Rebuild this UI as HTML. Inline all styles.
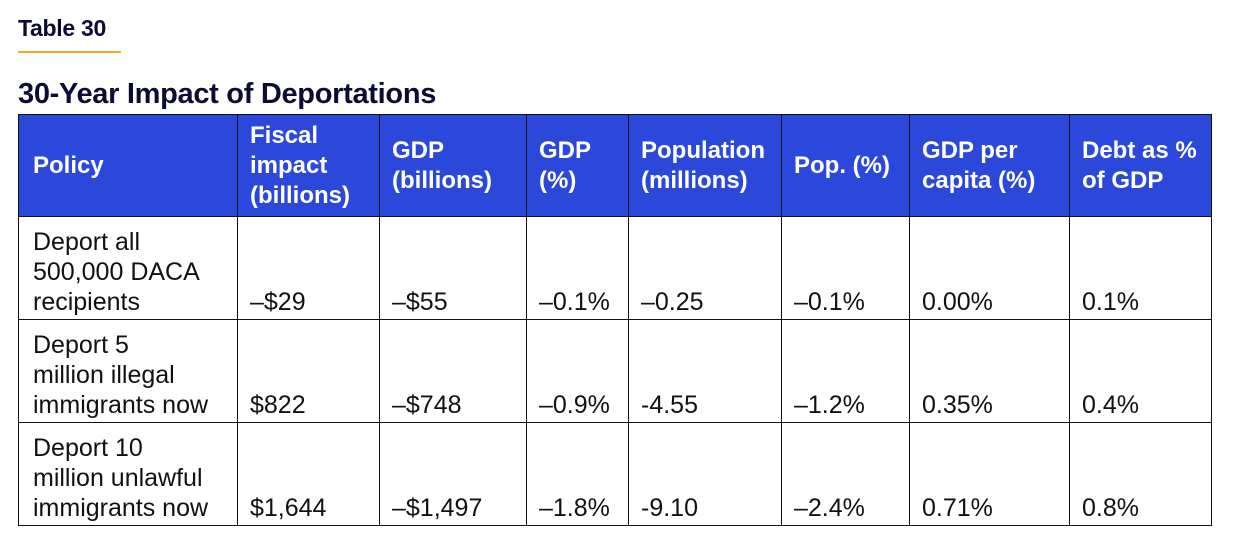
<!DOCTYPE html>
<html><head><meta charset="utf-8"><style>
body{margin:0;width:1233px;height:546px;background:#fff;font-family:"Liberation Sans",Arial,sans-serif;color:#0b0b33;position:relative;overflow:hidden}
.lbl{position:absolute;left:18px;top:15px;font-size:23px;font-weight:bold;letter-spacing:-0.3px}
.rule{position:absolute;left:18px;top:51px;width:103px;height:2px;background:#f5a623}
.title{position:absolute;left:18px;top:78px;font-size:29px;font-weight:bold;letter-spacing:-0.3px}
table{position:absolute;left:18px;top:114px;border-collapse:collapse;table-layout:fixed}
td,th{border:1.5px solid #111;padding:0 0 0 12px;text-align:left;white-space:nowrap;overflow:hidden}
td:first-child,th:first-child{padding-left:14px}
th{background:#2c48da;color:#fff;font-size:24px;font-weight:bold;line-height:30px;height:101px;vertical-align:middle}
td{font-size:25px;line-height:30px;height:100px;vertical-align:bottom;padding-bottom:2px;color:#111}
</style></head><body>
<div class="lbl">Table 30</div>
<div class="rule"></div>
<div class="title">30-Year Impact of Deportations</div>
<table>
<colgroup><col style="width:219px"><col style="width:142px"><col style="width:147px"><col style="width:102px"><col style="width:153px"><col style="width:128px"><col style="width:160px"><col style="width:142px"></colgroup>
<tr>
<th>Policy</th>
<th>Fiscal<br>impact<br>(billions)</th>
<th>GDP<br>(billions)</th>
<th>GDP<br>(%)</th>
<th>Population<br>(millions)</th>
<th>Pop. (%)</th>
<th>GDP per<br>capita (%)</th>
<th>Debt as %<br>of GDP</th>
</tr>
<tr>
<td>Deport all<br>500,000 DACA<br>recipients</td>
<td>–$29</td>
<td>–$55</td>
<td>–0.1%</td>
<td>–0.25</td>
<td>–0.1%</td>
<td>0.00%</td>
<td>0.1%</td>
</tr>
<tr>
<td>Deport 5<br>million illegal<br>immigrants now</td>
<td>$822</td>
<td>–$748</td>
<td>–0.9%</td>
<td>-4.55</td>
<td>–1.2%</td>
<td>0.35%</td>
<td>0.4%</td>
</tr>
<tr>
<td>Deport 10<br>million unlawful<br>immigrants now</td>
<td>$1,644</td>
<td>–$1,497</td>
<td>–1.8%</td>
<td>-9.10</td>
<td>–2.4%</td>
<td>0.71%</td>
<td>0.8%</td>
</tr>
</table>
</body></html>
